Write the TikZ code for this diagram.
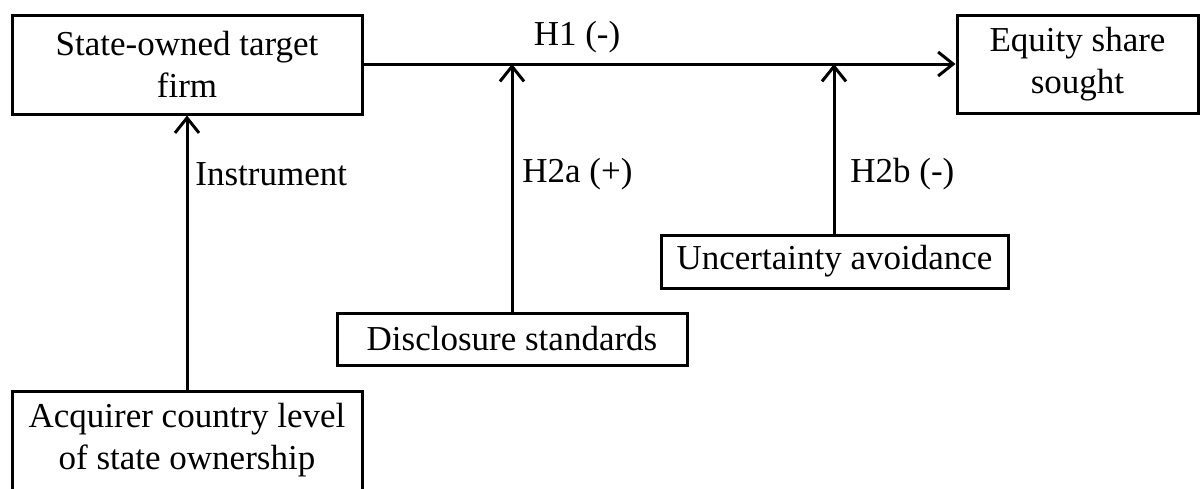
\documentclass[tikz,border=0pt]{standalone}
\usepackage{fontspec}
\setmainfont{Liberation Serif}
\usetikzlibrary{arrows.meta}
\tikzset{
  box/.style={draw, line width=1.5pt, rectangle, inner sep=0pt, align=center, font=\fontsize{17.5}{21}\selectfont},
  lbl/.style={inner sep=0pt, font=\fontsize{17.5}{21}\selectfont},
  conn/.style={line width=1.5pt},
  arr/.style={line width=1.5pt, -{Straight Barb[length=7.5pt, width=12pt]}}
}
\begin{document}
\begin{tikzpicture}[x=0.5pt, y=-0.5pt]
\useasboundingbox (0,0) rectangle (1200,488);
\node[box, minimum width=350pt*0.5, minimum height=99pt*0.5] (sotf) at (187,64.5) {State-owned target\\firm};
\node[box, minimum width=241pt*0.5, minimum height=98pt*0.5] (eq) at (1077.5,64) {Equity share\\sought};
\node[box, minimum width=350pt*0.5, minimum height=52pt*0.5] (disc) at (512,339) {Disclosure standards};
\node[box, minimum width=347pt*0.5, minimum height=53pt*0.5] (unc) at (834.5,261.5) {Uncertainty avoidance};
\node[box, minimum width=350pt*0.5, minimum height=99pt*0.5] (acq) at (187,440.5) {Acquirer country level\\of state ownership};
\coordinate (m1) at (512,64);
\coordinate (m2) at (834,64);
\draw[arr] (sotf.east |- 0,64) -- (eq.west |- 0,64);
\draw[arr] (acq.north) -- (sotf.south);
\draw[arr] (disc.north) -- (m1);
\draw[arr] (unc.north -| m2) -- (m2);
\node[lbl, anchor=base] (h1) at (577,45) {H1 (-)};
\node[lbl, anchor=base west] (ins) at (195,185) {Instrument};
\node[lbl, anchor=base west] (h2a) at (522,182) {H2a (+)};
\node[lbl, anchor=base west] (h2b) at (850,182) {H2b (-)};
\end{tikzpicture}
\end{document}
